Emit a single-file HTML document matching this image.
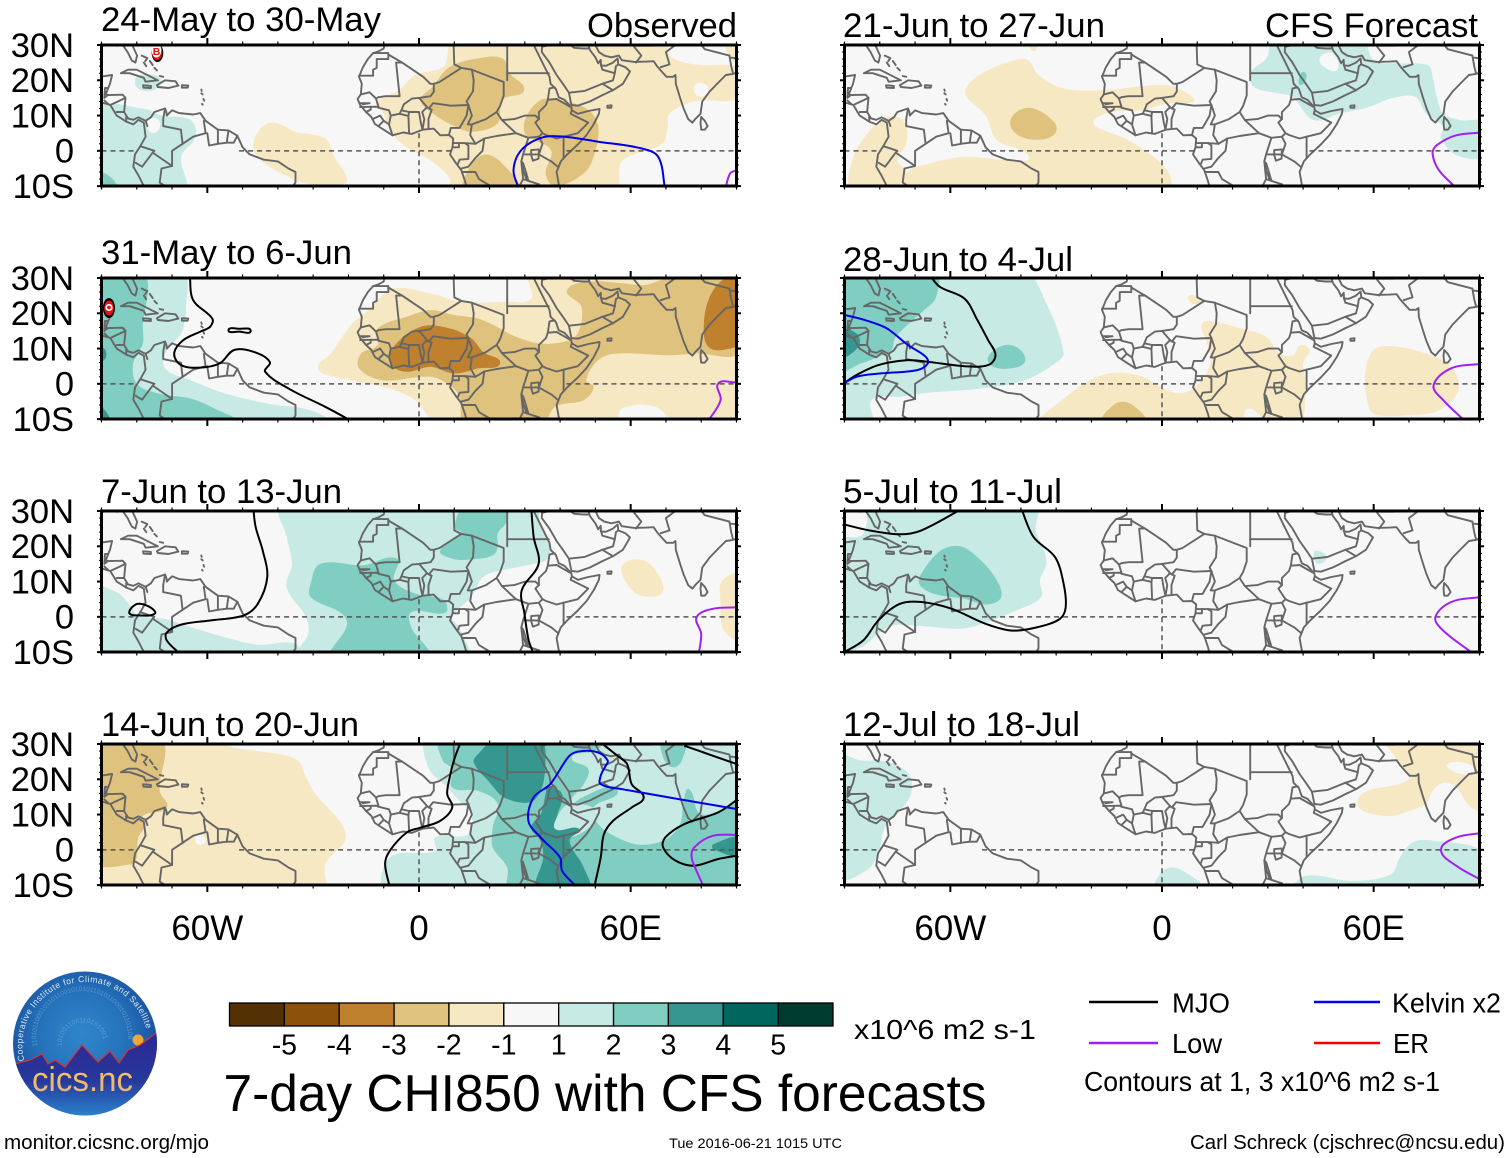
<!DOCTYPE html>
<html lang="en">
<head>
<meta charset="utf-8">
<title>7-day CHI850 with CFS forecasts</title>
<style>
html,body{margin:0;padding:0;background:#fff;}
body{width:1510px;height:1158px;overflow:hidden;}
svg{display:block;}
text{font-family:"Liberation Sans",Arial,sans-serif;fill:#000;}
</style>
</head>
<body>
<svg id="chart" xmlns="http://www.w3.org/2000/svg" width="1510" height="1158" viewBox="0 0 1510 1158">
  <rect width="1510" height="1158" fill="#fff"/>
  <g id="panels"></g>

  <g font-size="34">
    <text x="101" y="31" textLength="280" lengthAdjust="spacingAndGlyphs">24-May to 30-May</text>
    <text x="101" y="264" textLength="251" lengthAdjust="spacingAndGlyphs">31-May to 6-Jun</text>
    <text x="101" y="503" textLength="241" lengthAdjust="spacingAndGlyphs">7-Jun to 13-Jun</text>
    <text x="101" y="736" textLength="258" lengthAdjust="spacingAndGlyphs">14-Jun to 20-Jun</text>
    <text x="843" y="37" textLength="262" lengthAdjust="spacingAndGlyphs">21-Jun to 27-Jun</text>
    <text x="843" y="271" textLength="230" lengthAdjust="spacingAndGlyphs">28-Jun to 4-Jul</text>
    <text x="843" y="503" textLength="219" lengthAdjust="spacingAndGlyphs">5-Jul to 11-Jul</text>
    <text x="843" y="736" textLength="237" lengthAdjust="spacingAndGlyphs">12-Jul to 18-Jul</text>
    <text x="587" y="37" textLength="150" lengthAdjust="spacingAndGlyphs">Observed</text>
    <text x="1265" y="37" textLength="213" lengthAdjust="spacingAndGlyphs">CFS Forecast</text>
  </g>

  <g id="colorbar"></g>
  <text x="854" y="1039" font-size="28" textLength="182" lengthAdjust="spacingAndGlyphs">x10^6 m2 s-1</text>

  <text x="223.5" y="1111" font-size="51.5" textLength="763" lengthAdjust="spacingAndGlyphs">7-day CHI850 with CFS forecasts</text>

  <g font-size="27.5">
    <line x1="1089" y1="1002" x2="1158" y2="1002" stroke="#000" stroke-width="2.4"/>
    <text x="1172" y="1012.5" textLength="58" lengthAdjust="spacingAndGlyphs">MJO</text>
    <line x1="1089" y1="1043" x2="1158" y2="1043" stroke="#a020f0" stroke-width="2.4"/>
    <text x="1172" y="1053" textLength="50" lengthAdjust="spacingAndGlyphs">Low</text>
    <line x1="1314" y1="1002" x2="1380" y2="1002" stroke="#0000f0" stroke-width="2.4"/>
    <text x="1392" y="1012.5" textLength="109" lengthAdjust="spacingAndGlyphs">Kelvin x2</text>
    <line x1="1314" y1="1043" x2="1380" y2="1043" stroke="#f00000" stroke-width="2.4"/>
    <text x="1393" y="1053" textLength="36" lengthAdjust="spacingAndGlyphs">ER</text>
    <text x="1084" y="1091" textLength="356" lengthAdjust="spacingAndGlyphs">Contours at 1, 3 x10^6 m2 s-1</text>
  </g>

  <text x="4" y="1149" font-size="20.5" textLength="205" lengthAdjust="spacingAndGlyphs">monitor.cicsnc.org/mjo</text>
  <text x="669" y="1148" font-size="13.6" textLength="173" lengthAdjust="spacingAndGlyphs">Tue 2016-06-21 1015 UTC</text>
  <text x="1190" y="1149" font-size="20.5" textLength="315" lengthAdjust="spacingAndGlyphs">Carl Schreck (cjschrec@ncsu.edu)</text>

  <g>
    <defs>
      <radialGradient id="logoSky" gradientUnits="userSpaceOnUse" cx="82" cy="1035" r="76">
        <stop offset="0" stop-color="#2f86cb"/>
        <stop offset="0.55" stop-color="#2673bb"/>
        <stop offset="1" stop-color="#1a53a2"/>
      </radialGradient>
      <linearGradient id="logoGround" gradientUnits="userSpaceOnUse" x1="0" y1="1045" x2="0" y2="1116">
        <stop offset="0" stop-color="#2b2b95"/>
        <stop offset="0.5" stop-color="#27389b"/>
        <stop offset="1" stop-color="#2a82cc"/>
      </linearGradient>
      <linearGradient id="logoText" gradientUnits="userSpaceOnUse" x1="0" y1="1070" x2="0" y2="1092">
        <stop offset="0" stop-color="#f5c35e"/>
        <stop offset="1" stop-color="#e9b478"/>
      </linearGradient>
      <clipPath id="logoClip"><circle cx="85" cy="1043.5" r="72"/></clipPath>
      <path id="logoArc" d="M 24.4 1060.7 A 63 63 0 1 1 146.6 1030"/>
      <path id="logoSpiralOuter" d="M 37 1046 A 46 46 0 1 1 128 1040"/>
      <path id="logoSpiralInner" d="M 62 1046 A 21 21 0 1 1 104 1041"/>
    </defs>
    <circle cx="85" cy="1043.5" r="72" fill="url(#logoSky)"/>
    <text font-size="6.5" style="fill:#5598d2"><textPath href="#logoSpiralOuter">1101011000101101100101010110101100010110110010101101</textPath></text>
    <text font-size="6.5" style="fill:#5b9dd5"><textPath href="#logoSpiralInner">1010011001101010010110</textPath></text>
    <circle cx="138" cy="1040" r="5.5" fill="#eda63a"/>
    <g clip-path="url(#logoClip)">
      <polygon points="10,1066 18,1063 30,1060 42,1054 48,1064 55,1060 65,1067 82,1045 98,1062 110,1051 119,1063 128,1050 140,1045 160,1030 160,1120 10,1120" fill="url(#logoGround)"/>
      <polyline points="10,1066 18,1063 30,1060 42,1054 48,1064 55,1060 65,1067 82,1045 98,1062 110,1051 119,1063 128,1050 140,1045 160,1030" fill="none" stroke="#d8352e" stroke-width="1.2"/>
    </g>
    <text font-size="8.6" style="fill:#d9e8f6"><textPath href="#logoArc" textLength="202" lengthAdjust="spacing">Cooperative Institute for Climate and Satellites</textPath></text>
    <text x="32" y="1091" font-size="34" textLength="101" lengthAdjust="spacingAndGlyphs" style="fill:url(#logoText)">cics.nc</text>
  </g>
</svg>

<script>
/* ---------- axes ---------- */
const latTickLabels = [[30,'30N'],[20,'20N'],[10,'10N'],[0,'0'],[-10,'10S']];
const lonTickLabels = [[-60,'60W'],[0,'0'],[60,'60E']];
const colorbarTicks = ['-5','-4','-3','-2','-1','1','2','3','4','5'];
const colorbarLevels = [-5,-4,-3,-2,-1,0,1,2,3,4,5];
const levelColor = {'-5':'#543005','-4':'#8c510a','-3':'#bf812d','-2':'#dfc27d','-1':'#f6e8c3','0':'#f7f7f7','1':'#c7eae5','2':'#80cdc1','3':'#35978f','4':'#01665e','5':'#003c30'};
const equatorOceanSpans = [[-90,-80.4],[-51,9.4],[41.8,90]];
const meridianOceanSpan = [5,-10];

/* ---------- map geography (lon, lat) ---------- */
const coastAfricaWest = [[-9.8,30],[-10,29],[-11.5,28.2],[-13,27.7],[-14.5,26],[-15.9,23.7],[-17,21],[-16.2,19],[-16.5,16],[-17.4,14.7],[-16.7,13],[-15,11],[-13.5,9.6],[-12.5,7.6],[-10,6],[-7.5,4.4],[-4.5,5.2],[-2,4.8],[1,6],[4.2,6.3],[6,4.4],[8.5,4.5],[9.7,3.5],[9.5,1],[8.8,-1],[10.5,-3.5],[12,-5.5],[13,-8.5],[13.7,-11]];
const coastAfricaEast = [[32.5,30],[33.5,28],[35.5,24],[37,21],[37.3,19],[38.8,17.5],[39.6,15.2],[41.2,14.5],[43.2,12.3],[43.3,11.5],[45,10.5],[48,11.3],[51.2,11.9],[51,10.5],[49.5,7.5],[47.5,4.5],[45,1.8],[42,-1],[40.2,-3],[39,-6],[39.7,-10],[40.5,-11]];
const coastArabia = [[34.9,30],[34.8,28],[37,25],[39,21.5],[40.8,19],[42.5,16.5],[43.2,13],[45,12.8],[48.5,14],[52,15.8],[55,17.2],[57.8,19],[59.8,22.5],[58.5,23.7],[56.5,24.5],[56.3,26.2],[55,25],[53,24.1],[51.6,24.2],[51.5,25.8],[50.8,24.8],[50,26.5],[48.5,28.5],[48,30]];
const coastAsia = [[50,30],[51,28],[52.5,27],[54.5,26.5],[56.7,27],[57.5,25.7],[61,25.2],[64.5,25.3],[66.5,25.4],[67.5,24],[68.8,22.5],[70.2,21],[72,21],[72.7,21.5],[72.8,19],[74,15],[75,12],[76.3,9],[77.5,8],[78.3,9],[79.8,10.5],[80.3,14],[82.3,16.7],[85,19.5],[87,21.5],[89,21.8],[91,22.5]];
const coastSriLanka = [[80,9.6],[81,8.5],[81.8,7],[81,6],[80,6],[79.8,8],[80,9.6]];
const coastSocotra = [[53.4,12.8],[54.6,12.9],[54.5,12.2],[53.4,12.2],[53.4,12.8]];
const coastGulf = [[-91,29.3],[-89,30],[-85.5,29.8],[-84,30],[-82.6,28],[-81.4,25.6],[-80.4,25],[-79.9,27],[-81.3,30]];
const coastAmericaAtlantic = [[-91,18.6],[-90.5,21],[-87,21.5],[-87.6,19],[-88.2,17.5],[-88.8,16],[-88,15.8],[-84,15.9],[-83.2,15],[-83.6,11],[-82.5,9.2],[-81,8.8],[-79.5,9.5],[-77.5,8.5],[-76,9.5],[-75,11],[-72,12],[-71.6,11],[-71.5,10],[-71,10.5],[-70,11.5],[-68,10.7],[-64,10.3],[-62,10.7],[-60.5,8.5],[-57,6],[-54,5.8],[-51.5,4.3],[-50,1],[-48,-1],[-44,-2.5],[-40,-3],[-37,-5],[-35,-6],[-35,-9],[-36.5,-11]];
const coastAmericaPacific = [[-91,14],[-87.5,13],[-85.7,10],[-83,8.3],[-81,7.5],[-79.5,8.8],[-78,8],[-77.5,4],[-79,1.3],[-80.5,-1],[-81,-4.5],[-79.5,-7],[-77.5,-11]];
const coastCuba = [[-84.5,22],[-82.5,23],[-80,23],[-76,21],[-74,20],[-77.5,19.6],[-78,20.7],[-82,22],[-84.5,22]];
const coastHispaniola = [[-74.3,18.6],[-72,20],[-69,19.7],[-68.2,18.5],[-71,17.8],[-74,18.1],[-74.3,18.6]];
const coastJamaica = [[-78.2,18.6],[-76,18.4],[-76,17.8],[-78.1,17.9],[-78.2,18.6]];
const coastPuertoRico = [[-67.2,18.6],[-65.4,18.5],[-65.6,17.9],[-67.2,17.9],[-67.2,18.6]];
const coastBahamas = [[[-78.6,27],[-77,26.3],[-77.6,25.4]],[[-78,25],[-77.3,24]],[[-76.3,25.5],[-75.5,24.3]],[[-75,23.5],[-74.3,22.8]],[[-73.5,21.2],[-72.5,21]]];
const coastAntilles = [[[-61.7,16.3],[-61.3,16]],[[-61.1,14.7],[-60.9,14.2]],[[-61.7,17.4],[-61.6,17]],[[-61.5,13.3],[-61.3,13.1]]];
const lakeVictoria = [[31.8,0.2],[34,0.4],[33.9,-2.2],[32.3,-2.8],[31.8,-1.2],[31.8,0.2]];
const lakeTanganyika = [[29.2,-3.2],[29.5,-5.5],[30.5,-8.2],[31,-8.5],[30.3,-6],[29.5,-3.5],[29.2,-3.2]];
const lakeMalawi = [[34,-9.5],[34.4,-10],[34.6,-11.5],[34.2,-11.5],[34,-9.5]];

const bordersAfrica = [
  [[-13,27.7],[-8.7,27.7],[-8.7,26],[-12,26],[-12,23.5],[-13,23],[-13,21.3],[-17,21.3]],
  [[-8.7,27.3],[-4.8,25],[-6.5,25],[-5.5,15.5],[-9.5,15.5],[-11.5,15.2],[-12.2,14.8],[-14,16.6],[-16.5,16]],
  [[-4.8,25],[1.2,21],[3.2,19],[4.2,19],[4.2,16.8],[3.3,15.5],[0,15],[-2,14.8],[-4.3,13.2],[-5,11.5],[-5.5,10.5]],
  [[4.2,19],[5.8,19.5],[12,23.5],[10,24.5],[9.8,30]],
  [[12,23.5],[15,23],[24,19.5],[24,15.7],[23,12.7],[22,11],[19,9],[15,7.5],[14.5,4.5],[16,2],[13,2.2],[9.8,2.2]],
  [[15,23],[15.5,20],[15.3,16.9],[13.5,14],[14,13],[9,12.8],[4,13.5],[2.8,12],[2.3,12.4],[0,15]],
  [[25,32],[25,22],[25,20]],
  [[25,22],[36.8,22]],
  [[-16.7,12.4],[-12,12.5],[-11.4,12.2],[-12.2,14.8]],
  [[-16.7,13.5],[-14,13.5],[-16,13.2]],
  [[-15,11],[-13.7,11.7],[-13.7,12.5]],
  [[-13.2,9],[-11,10],[-10,8.5],[-11.5,7]],
  [[-10,8.5],[-8.5,7.5],[-7.5,4.4]],
  [[-8.5,7.5],[-8,10],[-5.5,10.5],[-3,9.9],[-2.8,5]],
  [[-11.4,12.2],[-8.5,11.5],[-8,10]],
  [[-3,9.9],[-2.8,11],[0,11],[0.5,8],[1,6]],
  [[1,6],[1.5,9],[0.9,11],[2.3,12.4]],
  [[2.7,6.3],[2.7,9],[3.6,11.7],[2.8,12]],
  [[-5,11.5],[-2.8,11]],
  [[8.5,4.5],[9,6.5],[11.5,6.5],[13.5,10],[14,13]],
  [[14,13],[15,10],[13.8,7.5],[15,7.5]],
  [[9.8,1],[11.3,1],[11.3,2.2]],
  [[13,2.2],[14,1.5],[14,-2.3],[11.5,-2.5],[11,-3.8]],
  [[16,2],[18.5,3.5],[18,0],[16,-2],[14,-4.5],[12,-5]],
  [[12.3,-6],[16,-6],[17,-8],[22,-11]],
  [[18.5,3.5],[22,4.2],[27.5,5],[31,3.7],[29.5,-1],[29,-3],[29.5,-8],[28.5,-10]],
  [[22,11],[23.5,8.7],[27.5,5]],
  [[23.5,8.7],[27,9],[30,10],[33,10],[34,9]],
  [[34,9],[33,8],[35,5],[36,4.5],[39,3.5],[41,4],[41,-2]],
  [[31,3.7],[34,4],[35,5]],
  [[34,4],[35,2],[34,-1],[30,-1]],
  [[34,-1],[37.5,-3],[39.3,-4.5]],
  [[41,4],[45,5],[48,8],[43,10.5],[43.3,11.5]],
  [[34,9],[34,11],[36,13],[36.5,14.5],[37,17.7],[38.5,18]],
  [[36.5,14.5],[39,14.7],[42.8,12.5]],
  [[29.5,-8],[34,-9.5],[34.5,-11]],
  [[36,-11],[40.5,-10.5]]
];
const bordersAsia = [
  [[42.8,16.5],[47,17],[52,19],[55,20],[55.5,22],[52,23],[51.5,24.5]],
  [[55,17.2],[52,19]],
  [[48,29],[46.5,29],[44,29.2],[40,32]],
  [[34.9,29.5],[37,30],[38,32]],
  [[61.5,25],[63,27],[61,29.5],[61,31]],
  [[61,29.8],[66,29.8],[68,32]],
  [[68.5,23.7],[71,24.5],[70,28],[74,31]],
  [[80,30],[81,28.8],[88,27]],
  [[88,27],[88.5,24],[89,22]],
  [[88.5,26.4],[92,26]],
  [[56.5,24.5],[55.8,24],[55.5,22]]
];
const bordersAmericas = [
  [[-72,12],[-72.5,9],[-72.5,7],[-67.5,6],[-67,2],[-64,4],[-60.5,5],[-61,8.5]],
  [[-60,5],[-59.5,1.5],[-57,2],[-57,6]],
  [[-54,5.8],[-54.5,2.3],[-57,2]],
  [[-51.5,4.3],[-52.5,2.3],[-54.5,2.3]],
  [[-79,1.3],[-75,0],[-75.5,-0.5],[-70,-4.3],[-70,0],[-67,2]],
  [[-80.3,-3.4],[-78.5,-4.5],[-75.5,-0.5]],
  [[-70,-4.3],[-73,-5],[-73.5,-9],[-70.5,-11]],
  [[-77.5,8.5],[-77,7]],
  [[-83,9.6],[-83,8.3]],
  [[-83.7,11],[-85.7,11]],
  [[-83.2,15],[-87.5,13]],
  [[-88.2,17.8],[-89,17.8],[-89.2,15],[-88.2,15.8]],
  [[-91,17.8],[-92,14.5]],
  [[-89.2,14.3],[-88,13.2]]
];
const mapPolylines = [coastAfricaWest,coastAfricaEast,coastArabia,coastAsia,coastSriLanka,coastSocotra,coastGulf,coastAmericaAtlantic,coastAmericaPacific,coastCuba,coastHispaniola,coastJamaica,coastPuertoRico,lakeVictoria,lakeTanganyika,lakeMalawi]
  .concat(coastBahamas,coastAntilles,bordersAfrica,bordersAsia,bordersAmericas);

/* ---------- 24-May to 30-May ---------- */
const may24TanMain = [[10,32],[7,24],[-1,21.5],[-6,17],[-12,14],[-10,10.5],[-8,5.5],[-3.5,1],[3,-2.5],[8.5,-7.5],[9.5,-12],[55.5,-12],[57.5,-3],[69,2],[70.5,7],[71,10.5],[78,14],[92,15.3],[92,23],[78,24.5],[71,27],[70,32]];
const may24TanCorner = [[87,32],[88.5,26],[92,25],[92,32]];
const may24WhiteIndia = [[78,18.5],[81,19],[82,16.5],[79,15.5]];
const may24TanAtlantic = [[-45,6.3],[-41,8],[-35,5.4],[-26.6,3.5],[-24,-1.7],[-20.5,-7.4],[-21,-9.3],[-32,-9.3],[-39,-6.4],[-45,-2.6],[-47,1.1]];
const may24DeepSahel = [[16.8,26.2],[23.6,26.2],[25.7,22],[29.8,17.2],[23.6,14.4],[22.3,7.8],[15.5,5.4],[11.4,6.3],[3.9,10.6],[0.5,14.4],[3.9,18.2],[8.7,23.8]];
const may24DeepHorn = [[30,5],[30.4,9.6],[34.5,14.4],[39.3,14.4],[47.4,12],[50.8,7],[49.5,-1.7],[46.7,-6.4],[38.6,-10],[35.9,-6.4],[37.5,0],[33,3]];
const may24DeepCongo = [[13,-12],[13,-7.4],[18,-1.2],[23.6,-3.6],[28,-12]];
const may24TealMain = [[-92,11.5],[-78.3,12],[-72.8,10],[-64.7,8.7],[-63.3,4],[-67.4,-1.7],[-66.7,-12],[-92,-12]];
const may24WhiteColombia = [[-76.5,9],[-74,9],[-73.5,6.5],[-75.5,5],[-77,6.5]];
const may24TealCuba = [[-80,21],[-75,21.5],[-73,19.5],[-76,17],[-80,18]];
const may24TealCorner = [[-92,-6],[-89,-6.4],[-86,-9],[-85,-12],[-92,-12]];
const may24Kelvin = [[28.4,-11],[26.8,-5.5],[29,0.2],[35,3.8],[41.3,4],[50.8,2.6],[63,0.7],[67.8,-1.7],[69.8,-11]];
const may24Low = [[86.8,-11],[88.2,-6.4],[90,-5.5]];

/* ---------- 31-May to 6-Jun ---------- */
const may31TanMain = [[-7.6,27],[3.3,25.6],[12,23.3],[25,23.3],[31.8,24.2],[31,32],[92,32],[92,-12],[74,-12],[67,-6.5],[57.6,-7],[55,-12],[6,-12],[-1,-4.6],[-10,-0.9],[-24,2],[-28.7,4.4],[-25,8.6],[-19,17],[-13.7,21.4]];
const may31DeepMain = [[-11.7,15.7],[-3.5,19],[3.3,20.9],[10,19.5],[16.8,18.5],[23,15.7],[26.4,13.8],[34.5,11.4],[42.7,12.4],[45.4,15.2],[46,21.9],[42,26.6],[49.5,29],[57.6,28.5],[63.7,28],[68.5,29.4],[74,32],[92,32],[92,9.6],[78,8.6],[71,8.1],[56,8.6],[50.8,6.7],[47.4,1],[49.5,-0.9],[46.7,-4.6],[38.6,-6.5],[34.5,-12],[13.5,-12],[11.4,-3.7],[9.4,-0.9],[3.3,2],[-10.3,1],[-17,4.4],[-16.4,8.6],[-11.7,11]];
const may31RichSahel = [[-7.6,10],[0.5,16.2],[8.7,15.7],[14.8,12.9],[18.2,9],[23,5.8],[16.8,4.4],[10,2.9],[3.3,4.8],[-3.5,3.4],[-7.6,5.3]];
const may31RichIndia = [[82,23.7],[86,29.4],[92,31],[92,12.4],[86,9.6],[82,10.5],[80.7,15.2]];
const may31TealLight = [[-67.4,32],[-66,21.9],[-67.4,14.3],[-71.5,9.6],[-72,4.4],[-64.7,1],[-55,-2.7],[-42.9,-5.6],[-30.7,-7.5],[-24,-12],[-92,-12],[-92,32]];
const may31TealMid = [[-78.3,32],[-78.3,16.2],[-78.3,11.4],[-81,5.8],[-80,0],[-74,-2.7],[-64.7,-4.2],[-58,-7],[-49.7,-12],[-92,-12],[-92,32]];
const may31WhiteColombia = [[-81,6],[-78,7],[-73,2],[-74,-0.5],[-79.5,0.5]];
const may31TealDeepA = [[-92,10],[-89.2,10],[-89,7],[-92,6.5]];
const may31TealDeepB = [[-92,-7],[-89.5,-7],[-87.5,-12],[-92,-12]];
const may31Mjo = [[-65,31],[-64,23.7],[-58.6,18.5],[-59.2,16.2],[-62,14.8],[-66.8,12.4],[-69.4,8.6],[-67.4,5.3],[-62,4.6],[-56.5,5.8],[-52.4,9.6],[-47,9.1],[-42.3,6.2],[-43.6,3.4],[-36.1,-1.8],[-26.6,-6.5],[-19.2,-10.5]];
const may31MjoSmall = [[-54,15.2],[-51,15.6],[-47.7,15],[-51,14.8],[-54,15.2]];
const may31Low = [[90,0.4],[84.8,0.1],[85.5,-4.6],[82,-10.5]];

/* ---------- 7-Jun to 13-Jun ---------- */
const jun7TealMain = [[-39,32],[-37.5,22.6],[-36,15],[-37.5,8.4],[-32,-0.1],[-31.4,-4.8],[-34.8,-12],[13.5,-12],[11.4,-2.9],[9.4,-0.1],[14.8,5.6],[18.2,11.3],[23.6,13.2],[32.5,15],[36.5,16.5],[37,20.2],[34.5,25.4],[32.5,32]];
const jun7TealWest = [[-92,8],[-85.7,7],[-82.3,3.7],[-79.6,0.4],[-72,-0.6],[-64.7,-2.9],[-55,-5.8],[-45.7,-7.9],[-34.8,-7.7],[-34.8,-12],[-92,-12]];
const jun7MidCentral = [[-28,15],[-15.8,14.6],[-6.3,16.5],[-7,10.3],[-0.8,6.5],[6.7,5],[8,1.8],[6,0.9],[-2.2,1.3],[-2.2,-2.9],[2.6,-12],[-24.6,-12],[-20.5,-1],[-30.7,5.6],[-30.7,9.4]];
const jun7MidNorth = [[13.5,32],[24.3,32],[25,27.3],[22.3,23.6],[22.3,19.8],[20.9,17.4],[13.5,16.2],[9.4,16.5],[6,18.8],[11.4,23],[12,24],[10,25.4]];
const jun7TanIndian = [[57.6,14.6],[63,16.2],[67,13.2],[69,7],[63,6],[59,9.4]];
const jun7TanEast = [[92,11.7],[86,10.3],[85.5,3.7],[86,-2.9],[88.9,-6.2],[92,-6.2]];
const jun7MjoWest = [[-47,31],[-46.3,25.4],[-44.3,18.8],[-43,11.3],[-45.7,3.7],[-49.7,0.4],[-59,-1],[-67.4,-2.2],[-71.5,-4.4],[-71.5,-6.7],[-67.7,-10.5]];
const jun7MjoLoop = [[-81.7,2.3],[-79.6,3.7],[-76.2,2.7],[-74.9,0.9],[-79.6,0.4],[-82,0.9],[-81.7,2.3]];
const jun7MjoEast = [[31.8,31],[32.5,22.6],[33.9,15],[29.1,7.5],[29.9,0.9],[31.1,-6.7],[32.5,-10.5]];
const jun7Low = [[91,2.7],[83.4,2.3],[78.7,-0.1],[80,-4.8],[79.3,-10.5]];

/* ---------- 14-Jun to 20-Jun ---------- */
const jun14TanLight = [[-92,32],[-53.8,32],[-53.8,29.5],[-45.7,28],[-34.8,25.7],[-32,20.5],[-29.3,15.8],[-21.9,7.3],[-21,2.6],[-26.6,-4],[-27.3,-12],[-92,-12]];
const jun14TanDeep = [[-92,32],[-73.5,32],[-73.5,16.7],[-71.5,12],[-78.3,9.6],[-78,6.3],[-79.6,3.5],[-80,-2],[-81,-4],[-92,-3]];
const jun14WhiteGuiana = [[-63.2,3.8],[-61,3.8],[-60.8,1.8],[-63,1.8]];
const jun14TealLight = [[2.6,32],[2.6,23.4],[8,17.7],[11.4,13.9],[14.8,10.1],[14,4.4],[4.6,3.5],[4.6,-0.3],[-8.3,-2.2],[-9,-12],[92,-12],[92,32]];
const jun14TealMid = [[6,32],[6.7,25.3],[9.4,22.9],[9.4,17.7],[16.8,16.7],[22.3,13],[20.9,6.3],[20.9,0.7],[25,-5],[25.7,-12],[92,-12],[92,12],[80,10.1],[76.6,17.2],[75,13.9],[74,7.3],[70,3],[63,1.4],[56.2,3.5],[50.8,7.3],[49.5,12],[56.2,15.8],[55,18.2],[46.3,14.9],[42.7,13],[46.7,18.6],[48,22.9],[43.3,26.2],[49.5,28],[53.5,32]];
const jun14TealMidNorth = [[69.2,32],[75.2,32],[74.5,25.3],[71.9,23.4],[69.2,26.2]];
const jun14LightEthiopia = [[39.3,9.6],[42.7,13],[50.8,11],[49.5,7.3],[42.7,3.5],[38.6,5.4]];
const jun14DeepNorth = [[22.3,32],[33.8,32],[35.9,25.7],[33,14.4],[25,14.4],[19.6,19.6],[15.5,24.8],[16.8,27.2]];
const jun14DeepStrip = [[36.5,17.7],[40.6,15.8],[39.3,10.1],[38.6,5.9],[45.4,5.9],[42.7,2.6],[46.7,-5],[48,-12],[33.8,-12],[35.2,-2.2],[34.5,2.6],[31.8,6.3],[34.5,10.1],[35.9,15.8]];
const jun14DeepIndian = [[83.4,1.6],[92,3.5],[92,-1.7],[83.4,0.2]];
const jun14MjoA = [[12,31],[10,25.7],[8.7,20.5],[8,15.8],[9.4,12],[6,8.2],[0.5,6.3],[-3.5,4.9],[-8.3,-0.3],[-9.6,-4],[-8.3,-10.5]];
const jun14MjoB = [[50.8,31],[56.2,26.7],[59,24.3],[60.3,18.6],[63.7,14.9],[60.3,12],[55,8.2],[52.4,4.4],[51.5,-2.2],[49.7,-10.5]];
const jun14MjoC = [[75.2,29.5],[80.7,27.6],[86.1,25.7],[91,24]];
const jun14MjoD = [[91,14.8],[84.8,10.6],[75.2,7.3],[69.8,3.5],[69.2,0.7],[72.6,-3],[78,-4.5],[84.8,-2.6],[91,-1.5]];
const jun14Kelvin = [[44.7,-10.5],[40.6,-6],[40,-2.2],[34.5,3.5],[31,8.2],[32.5,14.9],[37.2,18.6],[42.7,26.7],[46,28],[50.8,27.6],[53.5,25.3],[52.9,23.8],[51.5,21],[51.5,18.6],[57.6,17.2],[91,11.4]];
const jun14Low = [[91,4.2],[83.4,4],[78,0.7],[77.3,-2.2],[78.7,-6],[80.7,-10.5]];

/* ---------- 21-Jun to 27-Jun ---------- */
const jun21TanMain = [[-51,22],[-42,25.7],[-38,25.7],[-35,21.5],[-28,17.7],[-17,17.2],[1.5,18.6],[8,15.8],[9,13.9],[1.5,13.4],[-6,11.5],[-14.4,11],[-19.3,8.7],[-18.7,6.8],[-9.5,3],[1.5,-5.5],[1.7,-12],[-72.5,-12],[-72.5,-6.4],[-65.8,-3.6],[-56,-1.7],[-43.8,-2.6],[-37.7,-1.7],[-46.8,3],[-50,10],[-55.4,15.3],[-55.4,18.2]];
const jun21TanWest = [[-87.8,-12],[-87.8,-2.6],[-83.5,4.9],[-78,9.7],[-73,8.2],[-72.5,2],[-75,-2.6],[-72.5,-6.4],[-78,-12]];
const jun21TanTop = [[-37.5,31],[-35.5,31],[-35.8,28.5],[-37,28.5]];
const jun21TanDeep = [[-43,7.3],[-41.3,11],[-36.4,12],[-30.3,7.8],[-30.3,4.9],[-34,3.2],[-40,4]];
const jun21TealMain = [[25.3,22.4],[29.6,26.2],[32,32],[56.5,32],[60,25.7],[67.5,24.8],[75.4,24.3],[76.7,21],[77.9,15.3],[79.7,10.6],[84.6,8.7],[92,7.8],[92,-1.2],[83.4,-1.2],[79,4],[79.7,6.8],[74.8,10.6],[71.8,15.3],[65,14.9],[59,12.5],[50.4,10.6],[43,8.7],[37,15.3],[33,16.3],[26,18.2]];
const jun21WhiteHole = [[44.9,26.7],[48.4,27.6],[49.6,22.9],[45.3,24.3]];
const jun21MidSpot = [[40,22.4],[41,21],[39.4,18.6],[38.8,20.5]];
const jun21Low = [[91,5.2],[83.4,4.4],[77.9,1.6],[76.7,-0.8],[78.5,-5.5],[83.4,-10.5]];

/* ---------- 28-Jun to 4-Jul ---------- */
const jun28TealLight = [[-39.5,32],[-32.8,22.8],[-27.9,8.6],[-30.3,5.8],[-38.9,1],[-51,-1.3],[-68,-2.7],[-74.3,-3.7],[-82.3,-4.6],[-82.3,-12],[-92,-12],[-92,32]];
const jun28TealMid = [[-92,32],[-64.5,32],[-64,24.7],[-68,20.4],[-75.5,13.3],[-76.7,9.6],[-80.4,7.7],[-85.3,5.8],[-92,3.9]];
const jun28TealBlob = [[-49.3,7.7],[-44.4,11],[-40.1,9.6],[-38.9,6.2],[-42.5,4.4],[-48,4.9]];
const jun28TealDeep = [[-92,15.2],[-86.6,14.3],[-86,10.5],[-92,7.7]];
const jun28TanAfrica = [[11.3,17.1],[15,17.6],[22.3,15.7],[29.6,13.3],[33.3,8.6],[37,8.1],[39.4,11],[41.8,9.6],[40,5.8],[40.6,0.1],[38.8,-12],[30.8,-12],[24.7,-7],[21.6,-12],[-34.6,-12],[-27.9,-4.2],[-16.9,2.5],[-7,2.5],[3.9,-2.6],[9.4,-0.9],[13.7,5.8],[12.5,12.4]];
const jun28TanIndian = [[57.7,3.9],[60,9.6],[65,10.7],[74.8,8.6],[82,4.8],[84,-1.8],[78.5,-7.5],[69.9,-8.9],[60,-8.4],[58,-3.7]];
const jun28TanSpot = [[7.6,25],[10.5,24.5],[11,23],[8.5,22.8]];
const jun28TanDeep = [[-16.9,-12],[-13.2,-5.6],[-8.3,-6],[-4.6,-12]];
const jun28Mjo = [[-66,31],[-63,27.5],[-56,24.2],[-52.3,18],[-49.3,12.4],[-47.2,8.1],[-49.3,5.3],[-56,5],[-66,6.2],[-72.5,6.7],[-80.4,5.3],[-86.6,2.5],[-91,-0.4]];
const jun28Kelvin = [[-91,19.8],[-84,18],[-78,15.7],[-72,11],[-67,7.7],[-66.4,5.8],[-69.4,3.9],[-80.4,2.9],[-86.6,2],[-91,-0.4]];
const jun28Low = [[91,5.7],[82,4.4],[77,-0.4],[79.7,-4.6],[85.8,-10.5]];

/* ---------- 5-Jul to 11-Jul ---------- */
const jul5TealLight = [[-83.5,32],[-35.8,32],[-35.8,24.5],[-33.4,18.8],[-32.8,15],[-34.6,10.3],[-34,6.5],[-35.2,4.6],[-41.3,1.8],[-51,-2],[-57.2,-3.4],[-69.4,-2.5],[-76.8,-2.5],[-80.4,-4.8],[-85.3,-8.6],[-92,-9.1],[-92,21.7],[-85.3,23],[-83.5,27.3]];
const jul5TealMid = [[-62.7,18.8],[-57.2,20],[-52.3,16.9],[-47.4,11.3],[-45.6,5.6],[-49.9,3.5],[-56,5.1],[-64.5,6.5],[-68.8,9.4],[-67.6,13.2]];
const jul5TealSpot = [[43.6,18.8],[46.7,16.9],[44.3,15],[43,17]];
const jul5MjoA = [[-91,26.4],[-83,24.5],[-74.3,23.4],[-68.2,24.5],[-56,31]];
const jul5MjoB = [[-40,31],[-36.4,22.6],[-30.3,16.9],[-27.9,9.4],[-27.3,2.7],[-29,-0.6],[-35.2,-2.9],[-42.5,-3.9],[-49.9,-2],[-59.7,2.3],[-68.2,4.2],[-74.3,3.7],[-80.4,-1],[-84.7,-6.7],[-91,-10.5]];
const jul5Low = [[91,5.7],[82,4.2],[77.5,-0.1],[79.7,-3.9],[88.3,-10.5]];

/* ---------- 12-Jul to 18-Jul ---------- */
const jul12TealWest = [[-92,26.5],[-85.3,25.3],[-78,25],[-71.8,21.5],[-71.2,15.8],[-74.3,11],[-78.6,6.3],[-80.4,-1.2],[-84,-6],[-92,-7.9]];
const jul12TealGuinea = [[-1.6,-12],[0.2,-6],[5,-5.5],[11.2,-12]];
const jul12TealEast = [[37,-12],[40.6,-7.4],[54,-8.8],[64.9,-6.9],[67.4,-2.2],[71,2.1],[77,2.6],[92,-1.2],[92,-12]];
const jul12Tan = [[63.8,32],[92,32],[92,11],[87.6,12],[83.4,17.7],[79.7,19],[76.7,16.7],[74.8,13],[69.9,11],[65,9.6],[57,11],[55.3,13.9],[58.3,16.7],[69.9,20],[67.5,24.3]];
const jul12WhiteHole = [[81,24.3],[87.1,24.3],[88.3,21.9],[83.4,21.9]];
const jul12Low = [[91,4.8],[83.4,3.5],[79.1,0],[83.4,-4.5],[91,-8.8]];

const panelDefs = [
  {name:'24-may',left:101.5,top:45,yLabels:true,xLabels:false,
   fills:[[-1,may24TanMain],[-1,may24TanCorner],[0,may24WhiteIndia],[-1,may24TanAtlantic],[-2,may24DeepSahel],[-2,may24DeepHorn],[-2,may24DeepCongo],[1,may24TealMain],[0,may24WhiteColombia],[1,may24TealCuba],[2,may24TealCorner]],
   lines:[['kelvin',may24Kelvin],['low',may24Low]]},
  {name:'31-may',left:101.5,top:278,yLabels:true,xLabels:false,
   fills:[[-1,may31TanMain],[-2,may31DeepMain],[-3,may31RichSahel],[-3,may31RichIndia],[1,may31TealLight],[2,may31TealMid],[1,may31WhiteColombia],[3,may31TealDeepA],[3,may31TealDeepB]],
   lines:[['mjo',may31Mjo],['mjo',may31MjoSmall],['low',may31Low]]},
  {name:'7-jun',left:101.5,top:511,yLabels:true,xLabels:false,
   fills:[[1,jun7TealMain],[1,jun7TealWest],[2,jun7MidCentral],[2,jun7MidNorth],[-1,jun7TanIndian],[-1,jun7TanEast]],
   lines:[['mjo',jun7MjoWest],['mjo',jun7MjoLoop],['mjo',jun7MjoEast],['low',jun7Low]]},
  {name:'14-jun',left:101.5,top:744,yLabels:true,xLabels:true,
   fills:[[-1,jun14TanLight],[-2,jun14TanDeep],[0,jun14WhiteGuiana],[1,jun14TealLight],[2,jun14TealMid],[2,jun14TealMidNorth],[1,jun14LightEthiopia],[3,jun14DeepNorth],[3,jun14DeepStrip],[3,jun14DeepIndian]],
   lines:[['mjo',jun14MjoA],['mjo',jun14MjoB],['mjo',jun14MjoC],['mjo',jun14MjoD],['kelvin',jun14Kelvin],['low',jun14Low]]},
  {name:'21-jun',left:844.5,top:45,yLabels:false,xLabels:false,
   fills:[[-1,jun21TanMain],[-1,jun21TanWest],[-1,jun21TanTop],[-2,jun21TanDeep],[1,jun21TealMain],[0,jun21WhiteHole],[2,jun21MidSpot]],
   lines:[['low',jun21Low]]},
  {name:'28-jun',left:844.5,top:278,yLabels:false,xLabels:false,
   fills:[[1,jun28TealLight],[2,jun28TealMid],[2,jun28TealBlob],[3,jun28TealDeep],[-1,jun28TanAfrica],[-1,jun28TanIndian],[-1,jun28TanSpot],[-2,jun28TanDeep]],
   lines:[['mjo',jun28Mjo],['kelvin',jun28Kelvin],['low',jun28Low]]},
  {name:'5-jul',left:844.5,top:511,yLabels:false,xLabels:false,
   fills:[[1,jul5TealLight],[2,jul5TealMid],[1,jul5TealSpot]],
   lines:[['mjo',jul5MjoA],['mjo',jul5MjoB],['low',jul5Low]]},
  {name:'12-jul',left:844.5,top:744,yLabels:false,xLabels:true,
   fills:[[1,jul12TealWest],[1,jul12TealGuinea],[1,jul12TealEast],[-1,jul12Tan],[0,jul12WhiteHole]],
   lines:[['low',jul12Low]]}
];
const lineColor = {mjo:'#000000',kelvin:'#0000e6',low:'#a020f0',er:'#f00000'};

/* ---------- drawing ---------- */
const SVGNS = 'http://www.w3.org/2000/svg';
const DEG = 635 / 180;
const panelHeight = 141;

function make(tag, attrs, parent) {
  const el = document.createElementNS(SVGNS, tag);
  for (const k in attrs) el.setAttribute(k, attrs[k]);
  parent.appendChild(el);
  return el;
}
function xAxis(p, lon) { return p.left + (lon + 90) * DEG; }
function yAxis(p, lat) { return p.top + (30 - lat) * DEG; }

function smoothPath(p, pts, closed) {
  const xy = pts.map(d => [xAxis(p, d[0]), yAxis(p, d[1])]);
  const n = xy.length;
  const get = i => closed ? xy[(i + n) % n] : xy[Math.max(0, Math.min(n - 1, i))];
  const dist = (a, b) => Math.hypot(a[0] - b[0], a[1] - b[1]);
  const dir = i => {
    const a = get(i - 1), b = get(i + 1);
    const dx = b[0] - a[0], dy = b[1] - a[1];
    const l = Math.hypot(dx, dy) || 1;
    return [dx / l, dy / l];
  };
  let d = 'M' + xy[0][0].toFixed(1) + ' ' + xy[0][1].toFixed(1);
  const segs = closed ? n : n - 1;
  for (let i = 0; i < segs; i++) {
    const a = get(i), b = get(i + 1);
    const len = dist(a, b) * 0.33;
    const ta = dir(i), tb = dir(i + 1);
    d += 'C' + (a[0] + ta[0] * len).toFixed(1) + ' ' + (a[1] + ta[1] * len).toFixed(1) + ' ' +
         (b[0] - tb[0] * len).toFixed(1) + ' ' + (b[1] - tb[1] * len).toFixed(1) + ' ' +
         b[0].toFixed(1) + ' ' + b[1].toFixed(1);
  }
  return d + (closed ? 'Z' : '');
}
function straightPath(p, pts) {
  return pts.map((d, i) => (i ? 'L' : 'M') + xAxis(p, d[0]).toFixed(1) + ' ' + yAxis(p, d[1]).toFixed(1)).join('');
}

const panelsRoot = document.getElementById('panels');

panelDefs.forEach(function (p, index) {
  const g = make('g', {}, panelsRoot);
  
  

  const clipId = 'clip-' + p.name;
  const defs = make('defs', {}, g);
  const clip = make('clipPath', {id: clipId}, defs);
  make('rect', {x: p.left, y: p.top, width: 635, height: panelHeight}, clip);

  const plot = make('g', {'clip-path': 'url(#' + clipId + ')'}, g);
  const bg = make('rect', {x: p.left, y: p.top, width: 635, height: panelHeight, fill: levelColor['0']}, plot);
  
  

  p.fills.forEach(function (f) {
    const el = make('path', {d: smoothPath(p, f[1], true), fill: levelColor[String(f[0])]}, plot);
    
    
  });

  mapPolylines.forEach(function (line) {
    const el = make('path', {d: straightPath(p, line), fill: 'none', stroke: '#666', 'stroke-width': 1.9, 'stroke-linejoin': 'round', 'stroke-linecap': 'round'}, plot);
    
    
  });

  equatorOceanSpans.forEach(function (span) {
    const el = make('line', {x1: xAxis(p, span[0]), x2: xAxis(p, span[1]), y1: yAxis(p, 0), y2: yAxis(p, 0), stroke: '#555', 'stroke-width': 1.5, 'stroke-dasharray': '5 4'}, plot);
    
    
  });
  const meridian = make('line', {x1: xAxis(p, 0), x2: xAxis(p, 0), y1: yAxis(p, meridianOceanSpan[0]), y2: yAxis(p, meridianOceanSpan[1]), stroke: '#555', 'stroke-width': 1.5, 'stroke-dasharray': '5 4'}, plot);
  
  

  p.lines.forEach(function (l) {
    const pts = l[1];
    const isClosed = pts[0][0] === pts[pts.length - 1][0] && pts[0][1] === pts[pts.length - 1][1];
    const el = make('path', {d: smoothPath(p, isClosed ? pts.slice(0, -1) : pts, isClosed), fill: 'none', stroke: lineColor[l[0]], 'stroke-width': 2, 'stroke-linejoin': 'round'}, plot);
    
    
  });

  if (index === 0) {
    const storm = make('g', {}, plot);
    
    
    make('ellipse', {cx: 157.5, cy: 53, rx: 5.8, ry: 9, fill: '#000'}, storm);
    make('ellipse', {cx: 157, cy: 52, rx: 5.2, ry: 8.2, fill: '#e81010'}, storm);
    make('ellipse', {cx: 156.5, cy: 50.5, rx: 4.8, ry: 7, fill: '#fff'}, storm);
    const letter = make('text', {x: 156.5, y: 55, 'font-size': 10.5, 'text-anchor': 'middle', style: 'fill:#e81010;font-weight:bold'}, storm);
    letter.textContent = 'B';
  }
  if (index === 1) {
    const storm = make('g', {}, plot);
    
    
    make('ellipse', {cx: 109, cy: 308, rx: 6, ry: 10, fill: '#000'}, storm);
    make('ellipse', {cx: 109, cy: 308, rx: 4.8, ry: 7.5, fill: '#e81010'}, storm);
    make('circle', {cx: 109, cy: 307.5, r: 3.6, fill: '#fff'}, storm);
    make('circle', {cx: 109, cy: 307.5, r: 1.9, fill: '#e81010'}, storm);
  }

  const axes = make('g', {stroke: '#000'}, g);
  
  
  for (let lon = -90; lon <= 90; lon += 10) {
    const major = lon % 60 === 0;
    const len = major ? 7 : 3.5;
    const x = xAxis(p, lon);
    make('line', {x1: x, x2: x, y1: p.top, y2: p.top - len, 'stroke-width': major ? 2 : 1.2}, axes);
    make('line', {x1: x, x2: x, y1: p.top + panelHeight, y2: p.top + panelHeight + len, 'stroke-width': major ? 2 : 1.2}, axes);
  }
  for (let lat = -10; lat <= 30; lat += 2) {
    const major = lat % 10 === 0;
    const len = major ? 4.5 : 2.5;
    const y = yAxis(p, lat);
    make('line', {x1: p.left, x2: p.left - len, y1: y, y2: y, 'stroke-width': major ? 2 : 1}, axes);
    make('line', {x1: p.left + 635, x2: p.left + 635 + len, y1: y, y2: y, 'stroke-width': major ? 2 : 1}, axes);
  }
  const frame = make('rect', {x: p.left, y: p.top, width: 635, height: panelHeight, fill: 'none', stroke: '#000', 'stroke-width': 3}, g);
  
  

  if (p.yLabels) {
    latTickLabels.forEach(function (t) {
      const el = make('text', {x: 74, y: yAxis(p, t[0]) + 11.8, 'font-size': 34.5, 'text-anchor': 'end'}, g);
      
      
      el.textContent = t[1];
    });
  }
  if (p.xLabels) {
    lonTickLabels.forEach(function (t) {
      const el = make('text', {x: xAxis(p, t[0]), y: 940, 'font-size': 35, 'text-anchor': 'middle'}, g);
      
      
      el.textContent = t[1];
    });
  }
});

/* ---------- colorbar ---------- */
const cb = document.getElementById('colorbar');
const cbLeft = 229.5, cbTop = 1003, cbBoxW = 603.5 / 11, cbBoxH = 23;
colorbarLevels.forEach(function (lvl, i) {
  const box = make('rect', {x: cbLeft + i * cbBoxW, y: cbTop, width: cbBoxW, height: cbBoxH, fill: levelColor[String(lvl)], stroke: '#000', 'stroke-width': 1.3}, cb);
  
  
});
colorbarTicks.forEach(function (label, i) {
  const el = make('text', {x: cbLeft + (i + 1) * cbBoxW, y: 1054.5, 'font-size': 28.5, 'text-anchor': 'middle'}, cb);
  
  
  el.textContent = label;
});
</script>
</body>
</html>
